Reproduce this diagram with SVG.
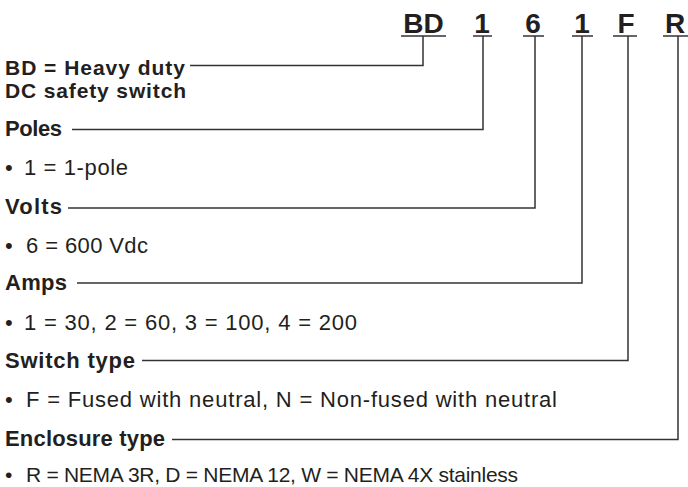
<svg xmlns="http://www.w3.org/2000/svg" width="688" height="487" viewBox="0 0 688 487">
<style>
.code{font-family:"Liberation Sans",Arial,sans-serif;font-weight:bold;font-size:28px;fill:#231f20;text-anchor:middle}
.head{font-family:"Liberation Sans",Arial,sans-serif;font-weight:bold;font-size:22px;fill:#231f20}
.sub{font-size:21px}
.item{font-family:"Liberation Sans",Arial,sans-serif;font-size:22px;fill:#231f20}
.last{font-size:21px}
.conn{fill:none;stroke:#333;stroke-width:1.5}
</style>
<rect width="688" height="487" fill="#fff"/>
<g id="code">
<text class="code" x="423.5" y="32.5">BD</text>
<text class="code" x="482" y="32.5">1</text>
<text class="code" x="533" y="32.5">6</text>
<text class="code" x="582" y="32.5">1</text>
<text class="code" x="626" y="32.5">F</text>
<text class="code" x="675" y="32.5">R</text>
<g class="conn">
<line x1="401" y1="36" x2="446" y2="36"/>
<line x1="473" y1="36" x2="492" y2="36"/>
<line x1="523" y1="36" x2="544" y2="36"/>
<line x1="572" y1="36" x2="593" y2="36"/>
<line x1="613" y1="36" x2="637" y2="36"/>
<line x1="663" y1="36" x2="688" y2="36"/>
</g>
</g>
<g id="connectors" class="conn">
<polyline points="190,65.5 423,65.5 423,36"/>
<polyline points="72,129.5 483,129.5 483,36"/>
<polyline points="68,208 535,208 535,36"/>
<polyline points="77,283 582,283 582,36"/>
<polyline points="142,360.5 628,360.5 628,36"/>
<polyline points="172,439.5 678,439.5 678,36"/>
</g>
<g id="node-bd">
<text class="head sub" x="5" y="75" textLength="180">BD = Heavy duty</text>
<text class="head sub" x="5" y="97.5" textLength="181">DC safety switch</text>
</g>
<g id="node-poles">
<text class="head" x="5" y="136" textLength="57">Poles</text>
<text class="item" x="5" y="175">•</text>
<text class="item" x="24" y="175" textLength="104">1 = 1-pole</text>
</g>
<g id="node-volts">
<text class="head" x="5" y="214" textLength="57">Volts</text>
<text class="item" x="5" y="253">•</text>
<text class="item" x="26" y="253" textLength="122">6 = 600 Vdc</text>
</g>
<g id="node-amps">
<text class="head" x="5" y="290" textLength="62">Amps</text>
<text class="item" x="5" y="330">•</text>
<text class="item" x="24" y="330" textLength="333">1 = 30, 2 = 60, 3 = 100, 4 = 200</text>
</g>
<g id="node-switch">
<text class="head" x="5" y="368" textLength="130">Switch type</text>
<text class="item" x="5" y="407">•</text>
<text class="item" x="26" y="407" textLength="531">F = Fused with neutral, N = Non-fused with neutral</text>
</g>
<g id="node-enclosure">
<text class="head" x="5" y="446" textLength="160">Enclosure type</text>
<text class="item last" x="5" y="482">•</text>
<text class="item last" x="26" y="482" textLength="492">R = NEMA 3R, D = NEMA 12, W = NEMA 4X stainless</text>
</g>
</svg>
